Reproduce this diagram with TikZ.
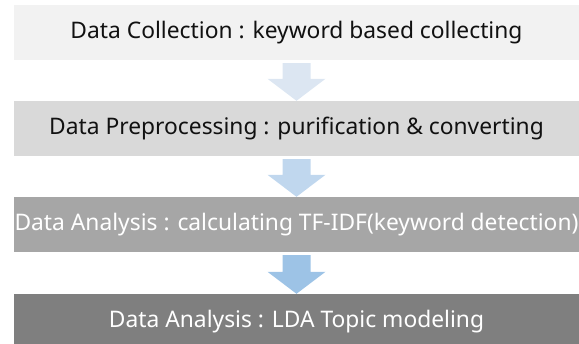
\documentclass[tikz,border=0pt]{standalone}
\usepackage{fontspec}
\setmainfont{Noto Sans}
\usetikzlibrary{calc}
\definecolor{gA}{HTML}{F2F2F2}
\definecolor{gB}{HTML}{D9D9D9}
\definecolor{gC}{HTML}{A6A6A6}
\definecolor{gD}{HTML}{7F7F7F}
\definecolor{aA}{HTML}{DCE6F2}
\definecolor{aB}{HTML}{C0D7EE}
\definecolor{aC}{HTML}{9DC3E6}
\definecolor{txtdark}{HTML}{111111}
\tikzset{
  barbox/.style={rectangle, inner sep=0pt, minimum width=565pt, minimum height=55pt,
    font=\fontsize{22.8pt}{26pt}\selectfont},
}
\newcommand\blockarr[3]{%
  \fill[#3] ($(#1.south)+(-14pt,-3pt)$) -- ($(#1.south)+(14pt,-3pt)$)
    -- ($(#2.north)+(14pt,22pt)$) -- ($(#2.north)+(29pt,22pt)$)
    -- (#2.north) -- ($(#2.north)+(-29pt,22pt)$)
    -- ($(#2.north)+(-14pt,22pt)$) -- cycle;}
\begin{document}
\begin{tikzpicture}[x=1pt,y=1pt]
\useasboundingbox (0,0) rectangle (579,-344);
\clip (0,0) rectangle (579,-344);
\node[barbox, fill=gA, text=txtdark] (b1) at (296.5,-32.5) {Data Collection : keyword based collecting};
\node[barbox, fill=gB, text=txtdark] (b2) at (296.5,-128.5) {Data Preprocessing : purification \& converting};
\node[barbox, fill=gC, text=white] (b3) at (296.5,-224.5) {Data Analysis : calculating TF-IDF(keyword detection)};
\node[barbox, fill=gD, text=white] (b4) at (296.5,-321.5) {Data Analysis : LDA Topic modeling};
\blockarr{b1}{b2}{aA}
\blockarr{b2}{b3}{aB}
\blockarr{b3}{b4}{aC}
\end{tikzpicture}
\end{document}
